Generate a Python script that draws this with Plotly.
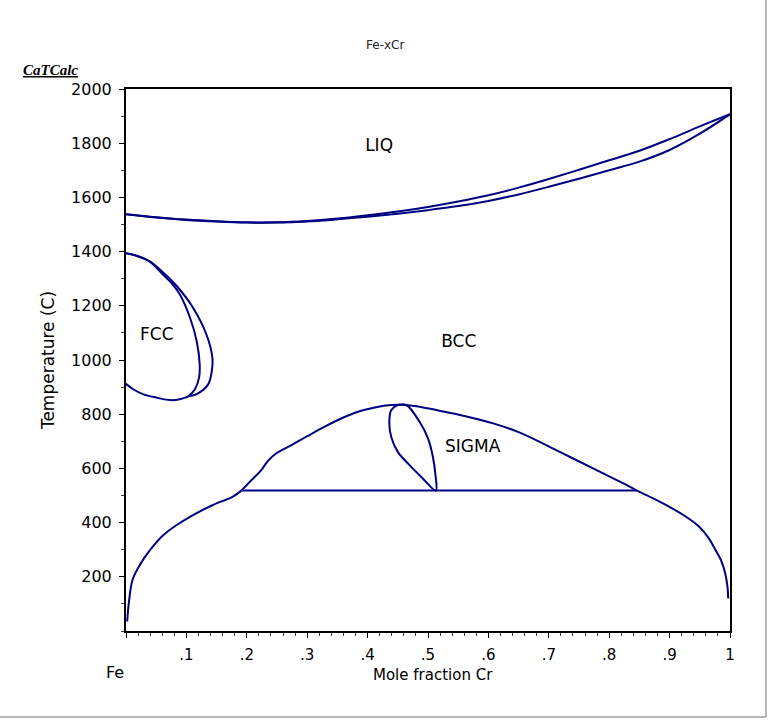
import plotly.graph_objects as go

# Liquidus / solidus
liq_x = [0, 0.05, 0.1, 0.15, 0.2, 0.25, 0.3, 0.35, 0.4, 0.45, 0.5, 0.55, 0.6, 0.65, 0.7, 0.75, 0.8, 0.85, 0.9, 0.95, 1.0]
liq_T = [1538, 1527, 1518, 1512, 1508, 1508, 1513, 1522, 1534, 1548, 1565, 1585, 1608, 1636, 1668, 1702, 1737, 1772, 1815, 1862, 1907]
sol_x = [0, 0.05, 0.1, 0.15, 0.2, 0.25, 0.3, 0.35, 0.4, 0.45, 0.5, 0.55, 0.6, 0.65, 0.7, 0.75, 0.8, 0.85, 0.9, 0.95, 1.0]
sol_T = [1538, 1526, 1517, 1511, 1507, 1507, 1511, 1519, 1529, 1540, 1553, 1568, 1587, 1611, 1639, 1669, 1700, 1732, 1775, 1835, 1907]

# Gamma loop (outer = bcc boundary, inner = fcc boundary)
gout_x = [0.0, 0.018, 0.040, 0.062, 0.084, 0.111, 0.133, 0.143, 0.142, 0.136, 0.117, 0.103, 0.089, 0.073, 0.051, 0.029, 0.012, 0.0]
gout_T = [1394, 1384, 1363, 1322, 1273, 1193, 1095, 1009, 959, 910, 874, 865, 855, 852, 861, 873, 892, 912]
gin_x = [0.0, 0.018, 0.040, 0.060, 0.075, 0.089, 0.106, 0.117, 0.122, 0.121, 0.114, 0.103]
gin_T = [1394, 1385, 1362, 1318, 1285, 1243, 1156, 1070, 984, 935, 892, 865]

# BCC / BCC+SIGMA dome
dome_x = [0.191, 0.208, 0.224, 0.235, 0.249, 0.274, 0.301, 0.329, 0.357, 0.384, 0.412, 0.439, 0.461,
          0.490, 0.519, 0.553, 0.608, 0.652, 0.719, 0.785, 0.826, 0.846]
dome_T = [518, 557, 594, 628, 656, 686, 720, 754, 785, 809, 825, 834, 834,
          826, 813, 797, 766, 732, 660, 587, 542, 518]

# SIGMA single-phase lens
sig_x = [0.513, 0.491, 0.469, 0.450, 0.439, 0.436, 0.439, 0.450, 0.464, 0.486, 0.500, 0.508, 0.512, 0.513]
sig_T = [518, 564, 613, 661, 717, 767, 815, 834, 834, 772, 711, 644, 582, 518]

# Eutectoid line
eut_x = [0.191, 0.846]
eut_T = [518, 518]

# BCC miscibility gap
mgl_x = [0.191, 0.177, 0.144, 0.117, 0.084, 0.062, 0.040, 0.023, 0.011, 0.005, 0.002]
mgl_T = [518, 496, 465, 435, 391, 354, 299, 244, 190, 110, 35]
mgr_x = [0.846, 0.872, 0.899, 0.927, 0.949, 0.965, 0.976, 0.985, 0.992, 0.996, 0.997]
mgr_T = [518, 490, 459, 422, 385, 342, 299, 262, 213, 160, 120]

# Phase labels
lab_text = ["LIQ", "FCC", "BCC", "SIGMA"]
lab_x = [0.419, 0.051, 0.551, 0.574]
lab_T = [1786, 1089, 1063, 675]

x_tickvals = [0, 0.1, 0.2, 0.3, 0.4, 0.5, 0.6, 0.7, 0.8, 0.9, 1.0]
x_ticktext = ["", ".1", ".2", ".3", ".4", ".5", ".6", ".7", ".8", ".9", "1"]
y_tickvals = [200, 400, 600, 800, 1000, 1200, 1400, 1600, 1800, 2000]

LINE = dict(color="#000080", width=2)
FONT = "DejaVu Sans"

# screen geometry of the plot area
W, H = 770, 720
PX0, PW, PY0, PH = 126, 604, 89, 542


def px(xs):
    return (xs - PX0) / PW


def py(ys):
    return (PY0 + PH - ys) / PH


fig = go.Figure()
for xs, ys in [(liq_x, liq_T), (sol_x, sol_T), (gout_x, gout_T), (gin_x, gin_T),
               (dome_x, dome_T), (sig_x, sig_T), (eut_x, eut_T), (mgl_x, mgl_T), (mgr_x, mgr_T)]:
    fig.add_trace(go.Scatter(x=xs, y=ys, mode="lines", line=LINE, line_shape="spline",
                             hoverinfo="skip", showlegend=False))

fig.add_trace(go.Scatter(x=lab_x, y=lab_T, mode="text", text=lab_text,
                         textfont=dict(family=FONT, size=17, color="black"),
                         showlegend=False, hoverinfo="skip"))

fig.update_layout(
    width=W, height=H,
    margin=dict(l=PX0, r=W - PX0 - PW, t=PY0, b=H - PY0 - PH),
    paper_bgcolor="white", plot_bgcolor="white",
    showlegend=False,
    font=dict(family=FONT, color="black"),
    xaxis=dict(range=[0, 1], tickvals=x_tickvals, ticktext=x_ticktext,
               ticks="outside", ticklen=5, tickwidth=1, tickcolor="black",
               minor=dict(dtick=0.02, ticks="outside", ticklen=3, tickcolor="#444"),
               showline=True, linecolor="black", linewidth=2, mirror=True,
               showgrid=False, zeroline=False, ticklabelstandoff=4,
               tickfont=dict(family=FONT, size=15)),
    yaxis=dict(range=[0, 2000], tickvals=y_tickvals,
               ticks="outside", ticklen=5, tickwidth=1, tickcolor="black",
               minor=dict(dtick=100, ticks="outside", ticklen=3, tickcolor="#444"),
               showline=True, linecolor="black", linewidth=2, mirror=True,
               showgrid=False, zeroline=False, ticklabelstandoff=4,
               tickfont=dict(family=FONT, size=16),
               title=dict(text="Temperature (C)", font=dict(family=FONT, size=17), standoff=12)),
)

fig.add_annotation(text="Fe-xCr", xref="paper", yref="paper", x=px(385), y=py(45),
                   xanchor="center", yanchor="middle",
                   showarrow=False, font=dict(family=FONT, size=12, color="#222"))
fig.add_annotation(text="<b><i><u>CaTCalc</u></i></b>", xref="paper", yref="paper",
                   x=px(21), y=py(70), xanchor="left", yanchor="middle",
                   showarrow=False, font=dict(family="Liberation Serif", size=15, color="black"))
fig.add_annotation(text="Fe", xref="paper", yref="paper", x=px(115), y=py(672),
                   xanchor="center", yanchor="middle",
                   showarrow=False, font=dict(family=FONT, size=16, color="black"))
fig.add_annotation(text="Mole fraction Cr", xref="paper", yref="paper", x=px(433), y=py(675),
                   xanchor="center", yanchor="middle", showarrow=False,
                   font=dict(family=FONT, size=15, color="black"))

# outer window frame (right and bottom)
fig.add_shape(type="line", xref="paper", yref="paper", x0=px(766), x1=px(766),
              y0=py(717), y1=py(0), line=dict(color="#a0a0a0", width=1.5))
fig.add_shape(type="line", xref="paper", yref="paper", x0=px(0), x1=px(766),
              y0=py(717), y1=py(717), line=dict(color="#a0a0a0", width=1.5))

fig.write_html(
    "out.html",
    config={"displayModeBar": False},
    post_script="document.body.style.margin='0';document.body.style.overflow='hidden';",
)
